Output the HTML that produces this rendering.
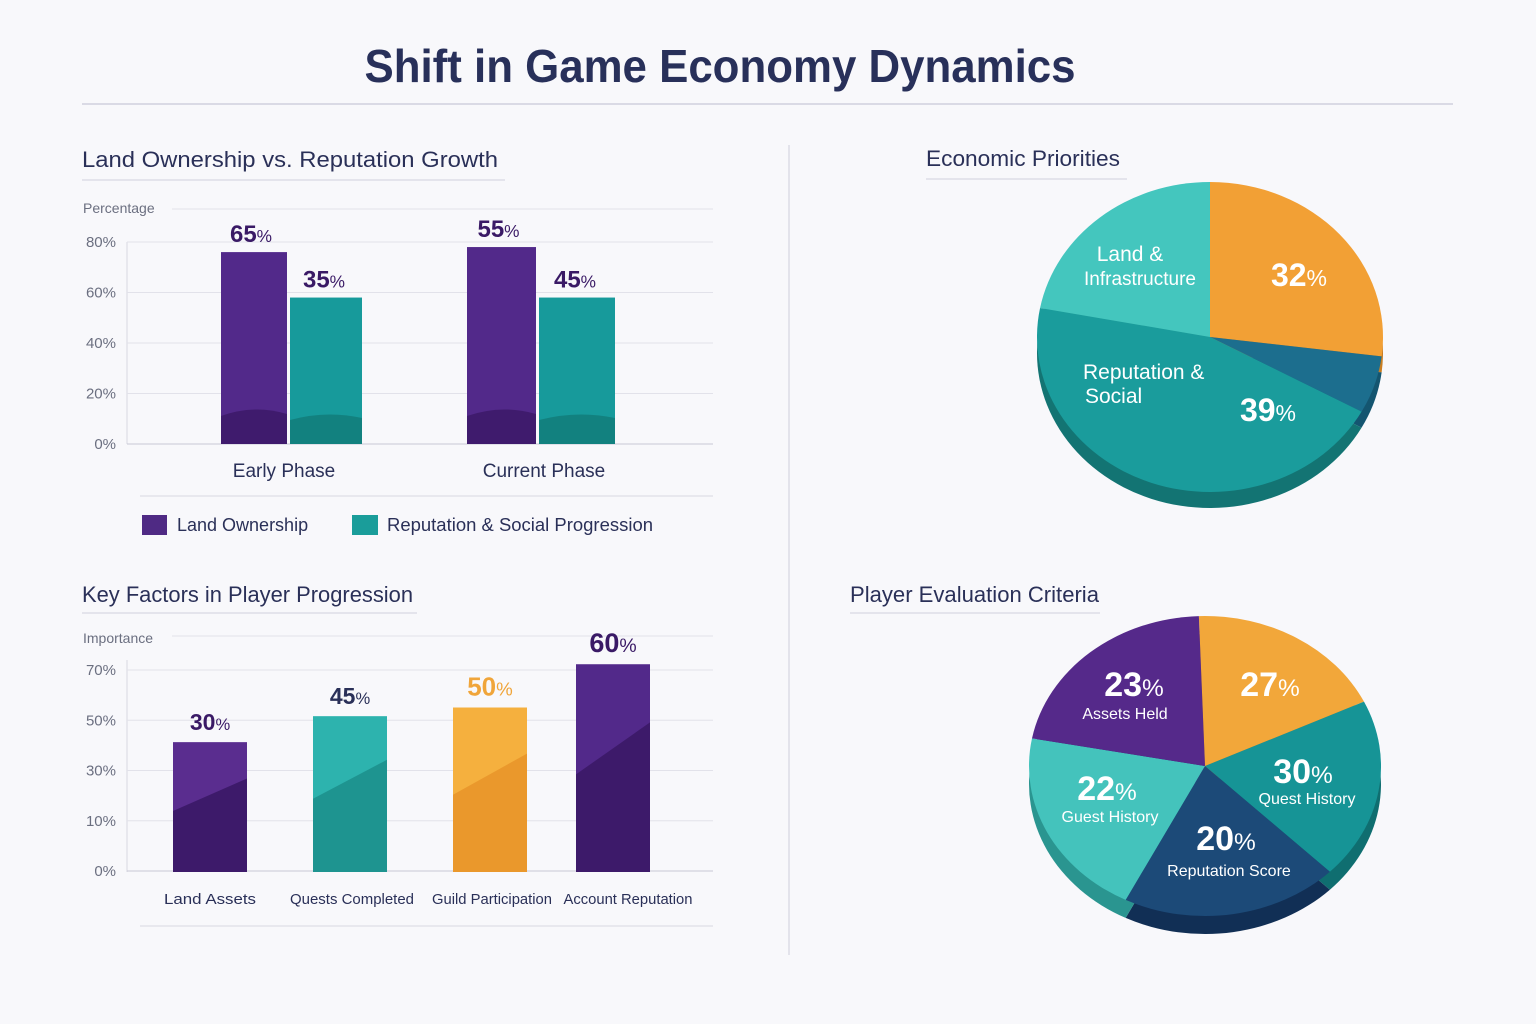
<!DOCTYPE html>
<html><head><meta charset="utf-8">
<style>
html,body{margin:0;padding:0;background:#f8f8fb;}
svg{display:block;font-family:"Liberation Sans",sans-serif;}
</style></head>
<body>
<svg id="root" width="1536" height="1024" viewBox="0 0 1536 1024">
<rect width="1536" height="1024" fill="#f8f8fb"/>
<text x="720" y="82" text-anchor="middle" font-size="46" font-weight="bold" fill="#28305a" textLength="711" lengthAdjust="spacingAndGlyphs">Shift in Game Economy Dynamics</text>
<line x1="82" y1="104" x2="1453" y2="104" stroke="#cfd0de" stroke-width="1.5"/>
<line x1="789" y1="145" x2="789" y2="955" stroke="#dcdce6" stroke-width="1.5"/>

<g id="c1">
<text x="82" y="167" font-size="22" fill="#2a3058" textLength="416" lengthAdjust="spacingAndGlyphs">Land Ownership vs. Reputation Growth</text>
<line x1="82" y1="180" x2="505" y2="180" stroke="#cfd0de"/>
<text x="83" y="213" font-size="14" fill="#6b6f80">Percentage</text>
<line x1="172" y1="209" x2="713" y2="209" stroke="#e2e2ea"/>
<line x1="127" y1="242" x2="127" y2="444" stroke="#d8d8e2"/>
<line x1="140" y1="496" x2="713" y2="496" stroke="#d8d8e2"/>
<rect x="142" y="515" width="25" height="20" fill="#4f2a84"/>
<text x="177" y="531" font-size="18" fill="#2a3058">Land Ownership</text>
<rect x="352" y="515" width="26" height="20" fill="#1a9d9a"/>
<text x="387" y="531" font-size="18" fill="#2a3058" textLength="266" lengthAdjust="spacingAndGlyphs">Reputation &amp; Social Progression</text>
</g>

<g id="c2">
<text x="82" y="602" font-size="22" fill="#2a3058" textLength="331" lengthAdjust="spacingAndGlyphs">Key Factors in Player Progression</text>
<line x1="82" y1="613" x2="417" y2="613" stroke="#cfd0de"/>
<text x="83" y="643" font-size="14" fill="#6b6f80">Importance</text>
<line x1="172" y1="636" x2="713" y2="636" stroke="#e2e2ea"/>
<line x1="127" y1="660" x2="127" y2="872" stroke="#d8d8e2"/>
<line x1="140" y1="926" x2="713" y2="926" stroke="#d8d8e2"/>
</g>

<g id="p1">
<text x="926" y="166" font-size="22" fill="#2a3058" textLength="194" lengthAdjust="spacingAndGlyphs">Economic Priorities</text>
<line x1="926" y1="179" x2="1127" y2="179" stroke="#cfd0de"/>
</g>
<g id="p2">
<text x="850" y="602" font-size="22" fill="#2a3058" textLength="249" lengthAdjust="spacingAndGlyphs">Player Evaluation Criteria</text>
<line x1="850" y1="613" x2="1100" y2="613" stroke="#cfd0de"/>
</g>
</svg>
<script>
// ---------- Chart 1 data ----------
const c1Categories = ["Early Phase", "Current Phase"];
const c1Land = [76, 78];
const c1Rep = [58, 58];
const c1LandLabels = ["65", "55"];
const c1RepLabels = ["35", "45"];
const c1Ticks = [0, 20, 40, 60, 80];
// ---------- Chart 2 data ----------
const c2Categories = ["Land Assets", "Quests Completed", "Guild Participation", "Account Reputation"];
const c2Values = [45, 54, 57, 72];
const c2Labels = ["30", "45", "50", "60"];
const c2Ticks = ["0%", "10%", "30%", "50%", "70%"];
// ---------- Pie data ----------
const p1Names = ["Land Ownership share", "Infrastructure upkeep", "Reputation & Social", "Land & Infrastructure"];
const p1Values = [27, 6, 45, 22];
const p2Names = ["Trading Value", "Quest History", "Reputation Score", "Guest History", "Assets Held"];
const p2Values = [18.5, 19.5, 20, 20.5, 21.5];
const p2Labels = ["27", "30", "20", "22", "23"];

const NS = "http://www.w3.org/2000/svg";
function mk(parent, tag, attrs, text) {
  const e = document.createElementNS(NS, tag);
  for (const k in attrs) e.setAttribute(k, attrs[k]);
  if (text !== undefined) e.textContent = text;
  parent.appendChild(e);
  return e;
}
function pctText(parent, x, y, num, size, color, name) {
  const t = mk(parent, "text", {x: x, y: y, "text-anchor": "middle", "font-size": size, "font-weight": "bold", fill: color});
  
  
  mk(t, "tspan", {}, num);
  mk(t, "tspan", {"font-size": size * 0.72, "font-weight": "normal"}, "%");
  return t;
}

// ---------- Chart 1 ----------
const c1 = document.getElementById("c1");
const y1 = v => 444 - v * (202 / 80);
c1Ticks.forEach(v => {
  const gl = mk(c1, "line", {x1: 127, x2: 713, y1: y1(v), y2: y1(v), stroke: v === 0 ? "#c8c8d6" : "#e2e2ea"});
  
  
  const tl = mk(c1, "text", {x: 116, y: y1(v) + 5, "text-anchor": "end", "font-size": 15, fill: "#6b6f80"}, v + "%");
  
  
});
const c1Centers = [284, 544];
const c1LandX = [221, 467], c1LandW = [66, 69];
const c1RepX = [290, 539], c1RepW = [72, 76];
c1Categories.forEach((cat, i) => {
  const cx = c1Centers[i];
  const lx = c1LandX[i], lw = c1LandW[i], rx = c1RepX[i], rw = c1RepW[i];
  const bl = mk(c1, "rect", {x: lx, y: y1(c1Land[i]), width: lw, height: 444 - y1(c1Land[i]), fill: "#52298a"});
  
  
  const dl = mk(c1, "path", {d: `M${lx} 416 Q${lx + lw / 2} 404 ${lx + lw} 414 L${lx + lw} 444 L${lx} 444 Z`, fill: "#3b1865", opacity: 0.8});
  
  
  const br = mk(c1, "rect", {x: rx, y: y1(c1Rep[i]), width: rw, height: 444 - y1(c1Rep[i]), fill: "#179a9b"});
  
  
  const dr = mk(c1, "path", {d: `M${rx} 420 Q${rx + rw / 2} 410 ${rx + rw} 418 L${rx + rw} 444 L${rx} 444 Z`, fill: "#127a78", opacity: 0.8});
  
  
  pctText(c1, lx + lw / 2 - 3, y1(c1Land[i]) - 10, c1LandLabels[i], 24, "#3a1a66", 'value-label-land-' + i);
  pctText(c1, rx + rw / 2 - 2, y1(c1Rep[i]) - 10, c1RepLabels[i], 24, "#3a1a66", 'value-label-reputation-' + i);
  const cl = mk(c1, "text", {x: cx, y: 477, "text-anchor": "middle", "font-size": 19, fill: "#2a3058"}, cat);
  
  
});

// ---------- Chart 2 ----------
const c2 = document.getElementById("c2");
const y2 = v => 872 - v * (202 / 70);
c2Ticks.forEach((t, i) => {
  const yy = 871 - i * 50.25;
  const gl = mk(c2, "line", {x1: 127, x2: 713, y1: yy, y2: yy, stroke: i === 0 ? "#c8c8d6" : "#e2e2ea"});
  
  
  const tl = mk(c2, "text", {x: 116, y: yy + 5, "text-anchor": "end", "font-size": 15, fill: "#6b6f80"}, t);
  
  
});
const c2X = [173, 313, 453, 576];
const c2Top = ["#5a2d8f", "#2db3ae", "#f5b03e", "#52298a"];
const c2Low = ["#3d1a6a", "#1e9490", "#ea982c", "#3d1a6a"];
const c2LabelCol = ["#3a1a66", "#2a3058", "#f0a53a", "#3a1a66"];
const c2LabelSize = [23, 23, 26, 27];
const c2LabelCx = [210, 352, 492, 628];
const c2LabelLen = [92, 124, 120, 129];
c2Categories.forEach((cat, i) => {
  const x = c2X[i], w = 74, top = y2(c2Values[i]), h = 872 - top;
  const b = mk(c2, "rect", {x: x, y: top, width: w, height: h, fill: c2Top[i]});
  
  
  const s = mk(c2, "polygon", {points: `${x},${872 - h * 0.47} ${x + w},${872 - h * 0.72} ${x + w},872 ${x},872`, fill: c2Low[i]});
  
  
  pctText(c2, x + w / 2, top - 12, c2Labels[i], c2LabelSize[i], c2LabelCol[i], 'value-label-factor-' + i);
  const cl = mk(c2, "text", {x: c2LabelCx[i], y: 904, "text-anchor": "middle", "font-size": 15, fill: "#2a3058", textLength: c2LabelLen[i], lengthAdjust: "spacingAndGlyphs"}, cat);
  
  
});

// ---------- Pies ----------
function pie(g, cx, cy, rx, ry, depth, start, values, tops, sides, prefix) {
  const total = values.reduce((a, b) => a + b, 0);
  const pt = (t, dy) => [cx + rx * Math.sin(t * Math.PI / 180), cy + dy - ry * Math.cos(t * Math.PI / 180)];
  const paths = [];
  let a = start;
  values.forEach((v, i) => {
    const a1 = a + v / total * 360;
    paths.push([a, a1]);
    a = a1;
  });
  const mkPath = (a0, a1, dy) => {
    const p0 = pt(a0, dy), p1 = pt(a1, dy);
    const large = (a1 - a0) > 180 ? 1 : 0;
    return `M${cx} ${cy + dy} L${p0[0]} ${p0[1]} A${rx} ${ry} 0 ${large} 1 ${p1[0]} ${p1[1]} Z`;
  };
  paths.forEach((p, i) => {
    const s = mk(g, "path", {d: mkPath(p[0], p[1], depth), fill: sides[i]});
    
    
  });
  paths.forEach((p, i) => {
    const s = mk(g, "path", {d: mkPath(p[0], p[1], 0), fill: tops[i]});
    
    
  });
}
function txt(g, x, y, s, size, weight, name, anchor) {
  const t = mk(g, "text", {x: x, y: y, "text-anchor": anchor || "middle", "font-size": size, "font-weight": weight, fill: "#ffffff"}, s);
  
  
}
const p1 = document.getElementById("p1");
pie(p1, 1210, 337, 173, 155, 16, 0, p1Values,
  ["#f2a035", "#1c6e8e", "#1a9c9c", "#44c6be"],
  ["#c97e22", "#145570", "#137473", "#2d9c96"], "pie1");
txt(p1, 1130, 261, "Land &", 21, "normal", "pie1-label-land-1");
txt(p1, 1140, 285, "Infrastructure", 19, "normal", "pie1-label-land-2");
pctText(p1, 1299, 286, "32", 32, "#ffffff", "pie1-value-32");
txt(p1, 1083, 379, "Reputation &", 21, "normal", "pie1-label-rep-1", "start");
txt(p1, 1085, 403, "Social", 21, "normal", "pie1-label-rep-2", "start");
pctText(p1, 1268, 421, "39", 32, "#ffffff", "pie1-value-39");

const p2 = document.getElementById("p2");
pie(p2, 1205, 766, 176, 150, 18, -2, p2Values,
  ["#f2a73a", "#169496", "#1c4a78", "#44c3bc", "#55298a"],
  ["#c98426", "#0f6e70", "#112f55", "#2a9590", "#3a1a66"], "pie2");
pctText(p2, 1134, 696, p2Labels[4], 34, "#ffffff", "pie2-value-assets");
txt(p2, 1125, 719, "Assets Held", 16, "normal", "pie2-label-assets");
pctText(p2, 1270, 696, p2Labels[0], 34, "#ffffff", "pie2-value-trading");
pctText(p2, 1303, 783, p2Labels[1], 34, "#ffffff", "pie2-value-quest");
txt(p2, 1307, 804, "Quest History", 16, "normal", "pie2-label-quest");
pctText(p2, 1107, 800, p2Labels[3], 34, "#ffffff", "pie2-value-guest");
txt(p2, 1110, 822, "Guest History", 16, "normal", "pie2-label-guest");
pctText(p2, 1226, 850, p2Labels[2], 34, "#ffffff", "pie2-value-reputation");
txt(p2, 1229, 876, "Reputation Score", 16, "normal", "pie2-label-reputation");
</script>
</body></html>
